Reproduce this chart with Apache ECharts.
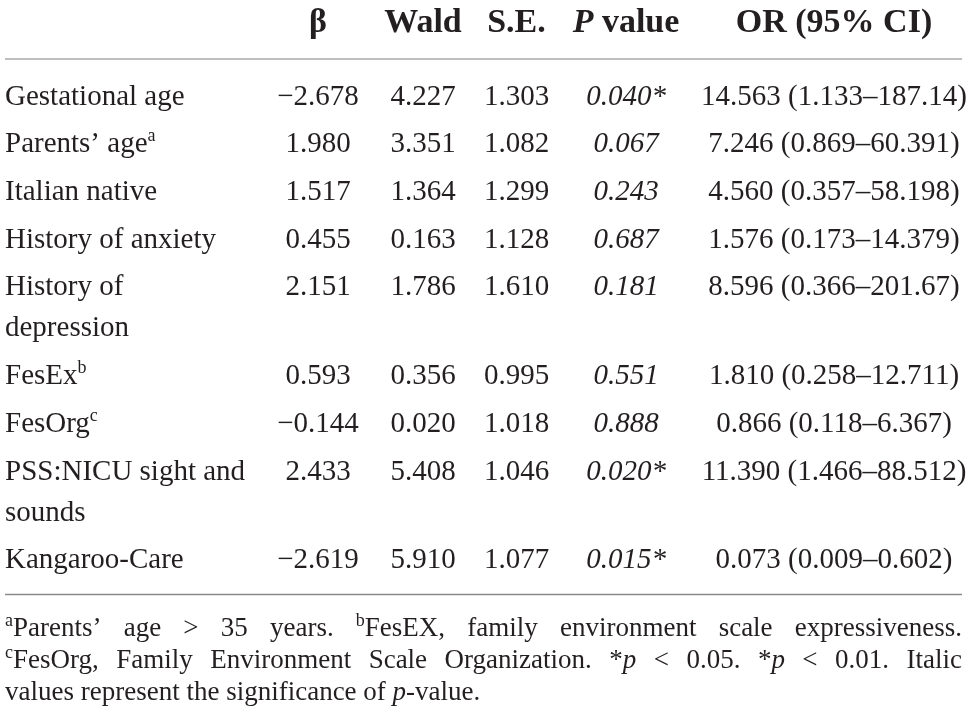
<!DOCTYPE html>
<html>
<head>
<meta charset="utf-8">
<script src="https://cdn.jsdelivr.net/npm/echarts@6/dist/echarts.min.js"></script>
<style>
html,body{margin:0;padding:0;background:#ffffff;}
#main{width:968px;height:724px;}
</style>
</head>
<body>
<div id="main"></div>
<script>
// ---------------- DATA ----------------
const headers = ['β', 'Wald', 'S.E.', 'P value', 'OR (95% CI)'];
const variables = ['Gestational age', 'Parents’ age', 'Italian native', 'History of anxiety',
  'History of depression', 'FesEx', 'FesOrg', 'PSS:NICU sight and sounds', 'Kangaroo-Care'];
const variableNote = ['', 'a', '', '', '', 'b', 'c', '', ''];
const beta = [-2.678, 1.980, 1.517, 0.455, 2.151, 0.593, -0.144, 2.433, -2.619];
const wald = [4.227, 3.351, 1.364, 0.163, 1.786, 0.356, 0.020, 5.408, 5.910];
const stdErr = [1.303, 1.082, 1.299, 1.128, 1.610, 0.995, 1.018, 1.046, 1.077];
const pValue = [0.040, 0.067, 0.243, 0.687, 0.181, 0.551, 0.888, 0.020, 0.015];
const pMark = ['*', '', '', '', '', '', '', '*', '*'];
const oddsRatio = [14.563, 7.246, 4.560, 1.576, 8.596, 1.810, 0.866, 11.390, 0.073];
const ciLower = [1.133, 0.869, 0.357, 0.173, 0.366, 0.258, 0.118, 1.466, 0.009];
const ciUpper = [187.14, 60.391, 58.198, 14.379, 201.67, 12.711, 6.367, 88.512, 0.602];
// footnote: {x} = superscript, [x] = italic
const footnoteLines = [
  '{a}Parents’ age > 35 years. {b}FesEX, family environment scale expressiveness.',
  '{c}FesOrg, Family Environment Scale Organization. *[p] < 0.05. *[p] < 0.01. Italic',
  'values represent the significance of [p]-value.'
];
const footnoteJustify = [true, true, false];

// ---------------- LAYOUT / STYLE ----------------
const W = 968, H = 724;
const INK = '#231f20';
const FAMILY = '"Liberation Serif","Times New Roman",serif';
const BODY_FS = 29, HEAD_FS = 34, NOTE_FS = 27, SUP_FS = 18, NOTE_SUP_FS = 18;
const TEXT_NUDGE = 3;
const X_LEFT = 5, X_RIGHT = 962;
const colCenters = [318, 423, 516.5, 626, 834];
const HEADER_BASE = 32, HEADER_RULE = 59;
const FIRST_BASE = 104, ROW_PITCH = 47.7, LINE_GAP = 41;
const LABEL_MAX = 246;
const NOTE_GAP = 40, NOTE_PITCH = 32;

const fontOf = (size, bold, italic) => (italic ? 'italic ' : '') + (bold ? 'bold ' : '') + size + 'px ' + FAMILY;
const mctx = document.createElement('canvas').getContext('2d');
function measure(t, f) { mctx.font = f; return mctx.measureText(t).width; }
function midOffset(f, size) {
  mctx.font = f; mctx.textBaseline = 'alphabetic';
  const m = mctx.measureText('Hg');
  if (m.fontBoundingBoxAscent) return (m.fontBoundingBoxAscent - m.fontBoundingBoxDescent) / 2;
  return 0.3375 * size;
}
function fmt(v) {
  const a = Math.abs(v);
  const intDigits = Math.max(1, Math.floor(Math.log10(a)) + 1);
  const d = Math.min(3, 5 - intDigits);
  return (v < 0 ? '−' : '') + a.toFixed(d);
}
// segments: {t, size, bold, italic, rise}
function segWidth(segs) { return segs.reduce((s, g) => s + measure(g.t, fontOf(g.size, g.bold, g.italic)), 0); }
function segEls(api, segs, x, baseY, align) {
  const total = segWidth(segs);
  let cx = align === 'center' ? x - total / 2 : x;
  return segs.map(g => {
    const f = fontOf(g.size, g.bold, g.italic);
    const w = measure(g.t, f);
    const p = api.coord([cx, baseY - (g.rise || 0)]);
    const el = {
      type: 'text',
      style: { text: g.t, font: f, x: p[0], y: p[1] - midOffset(f, g.size) + TEXT_NUDGE, fill: INK, textAlign: 'left', textVerticalAlign: 'middle', verticalAlign: 'middle' }
    };
    cx += w;
    return el;
  });
}

// wrap labels
const bodyFont = fontOf(BODY_FS);
const labelLines = variables.map(v => {
  const words = v.split(' ');
  const lines = [];
  let cur = '';
  words.forEach(w => {
    const t = cur ? cur + ' ' + w : w;
    if (cur && measure(t, bodyFont) > LABEL_MAX) { lines.push(cur); cur = w; } else cur = t;
  });
  lines.push(cur);
  return lines;
});
// row baselines
const baselines = [];
let yb = FIRST_BASE;
variables.forEach((v, i) => { baselines.push(yb); yb += ROW_PITCH + (labelLines[i].length - 1) * LINE_GAP; });
const lastRow = variables.length - 1;
const BOTTOM_RULE = baselines[lastRow] + (labelLines[lastRow].length - 1) * LINE_GAP + 27;

// cells
const cells = [];
variables.forEach((v, r) => {
  for (let c = 0; c < 6; c++) cells.push({ c: c, r: r, x: c === 0 ? X_LEFT : colCenters[c - 1], y: baselines[r] });
});
function cellSegs(c, r) {
  switch (c) {
    case 1: return [{ t: fmt(beta[r]), size: BODY_FS }];
    case 2: return [{ t: fmt(wald[r]), size: BODY_FS }];
    case 3: return [{ t: fmt(stdErr[r]), size: BODY_FS }];
    case 4: return [{ t: fmt(pValue[r]) + pMark[r], size: BODY_FS, italic: true }];
    case 5: return [{ t: fmt(oddsRatio[r]) + ' (' + fmt(ciLower[r]) + '–' + fmt(ciUpper[r]) + ')', size: BODY_FS }];
  }
  return [];
}
function headerSegs(i) {
  if (headers[i] === 'P value') return [{ t: 'P', size: HEAD_FS, bold: true, italic: true }, { t: ' value', size: HEAD_FS, bold: true }];
  return [{ t: headers[i], size: HEAD_FS, bold: true }];
}

// footnote words
function parseWord(w) {
  const segs = [];
  const re = /\{(\w+)\}|\[(\w+)\]|([^{\[]+)/g;
  let m;
  while ((m = re.exec(w))) {
    if (m[1]) segs.push({ t: m[1], size: NOTE_SUP_FS, rise: 10 });
    else if (m[2]) segs.push({ t: m[2], size: NOTE_FS, italic: true });
    else segs.push({ t: m[3], size: NOTE_FS });
  }
  return segs;
}
const noteWords = [];
footnoteLines.forEach((line, li) => {
  const words = line.split(' ').map(parseWord);
  const widths = words.map(segWidth);
  const sum = widths.reduce((a, b) => a + b, 0);
  const gap = footnoteJustify[li] ? (X_RIGHT - X_LEFT - sum) / (words.length - 1) : measure(' ', fontOf(NOTE_FS));
  let x = X_LEFT;
  const base = BOTTOM_RULE + NOTE_GAP + li * NOTE_PITCH;
  words.forEach((segs, k) => { noteWords.push({ segs: segs, x: x, y: base }); x += widths[k] + gap; });
});

// ---------------- CHART ----------------
const chart = echarts.init(document.getElementById('main'), null, { renderer: 'canvas' });
chart.setOption({
  animation: false,
  backgroundColor: '#ffffff',
  grid: { left: 0, right: 0, top: 0, bottom: 0 },
  xAxis: { type: 'value', min: 0, max: W, show: false },
  yAxis: { type: 'value', min: 0, max: H, inverse: true, show: false },
  series: [
    {
      type: 'custom', name: 'rules', clip: false, silent: true,
      data: [[X_LEFT, HEADER_RULE, X_RIGHT], [X_LEFT, BOTTOM_RULE, X_RIGHT]],
      renderItem: function (params, api) {
        const a = api.coord([api.value(0), api.value(1)]);
        const b = api.coord([api.value(2), api.value(1)]);
        return { type: 'line', shape: { x1: a[0], y1: a[1], x2: b[0], y2: b[1] },
          style: { stroke: params.dataIndex === 0 ? '#a8a8a8' : '#8a8a8a', lineWidth: 1.5 } };
      }
    },
    {
      type: 'custom', name: 'header', clip: false, silent: true,
      data: headers.map((h, i) => [colCenters[i], HEADER_BASE]),
      renderItem: function (params, api) {
        return { type: 'group', children: segEls(api, headerSegs(params.dataIndex), api.value(0), api.value(1), 'center') };
      }
    },
    {
      type: 'custom', name: 'cells', clip: false, silent: true,
      data: cells.map(c => [c.x, c.y]),
      renderItem: function (params, api) {
        const cell = cells[params.dataIndex];
        const x = api.value(0), y = api.value(1);
        let children = [];
        if (cell.c === 0) {
          const lines = labelLines[cell.r];
          lines.forEach((ln, k) => {
            const segs = [{ t: ln, size: BODY_FS }];
            if (k === lines.length - 1 && variableNote[cell.r]) segs.push({ t: variableNote[cell.r], size: SUP_FS, rise: 12 });
            children = children.concat(segEls(api, segs, x, y + k * LINE_GAP, 'left'));
          });
        } else {
          children = segEls(api, cellSegs(cell.c, cell.r), x, y, 'center');
        }
        return { type: 'group', children: children };
      }
    },
    {
      type: 'custom', name: 'footnote', clip: false, silent: true,
      data: noteWords.map(w => [w.x, w.y]),
      renderItem: function (params, api) {
        return { type: 'group', children: segEls(api, noteWords[params.dataIndex].segs, api.value(0), api.value(1), 'left') };
      }
    }
  ]
});
</script>
</body>
</html>
